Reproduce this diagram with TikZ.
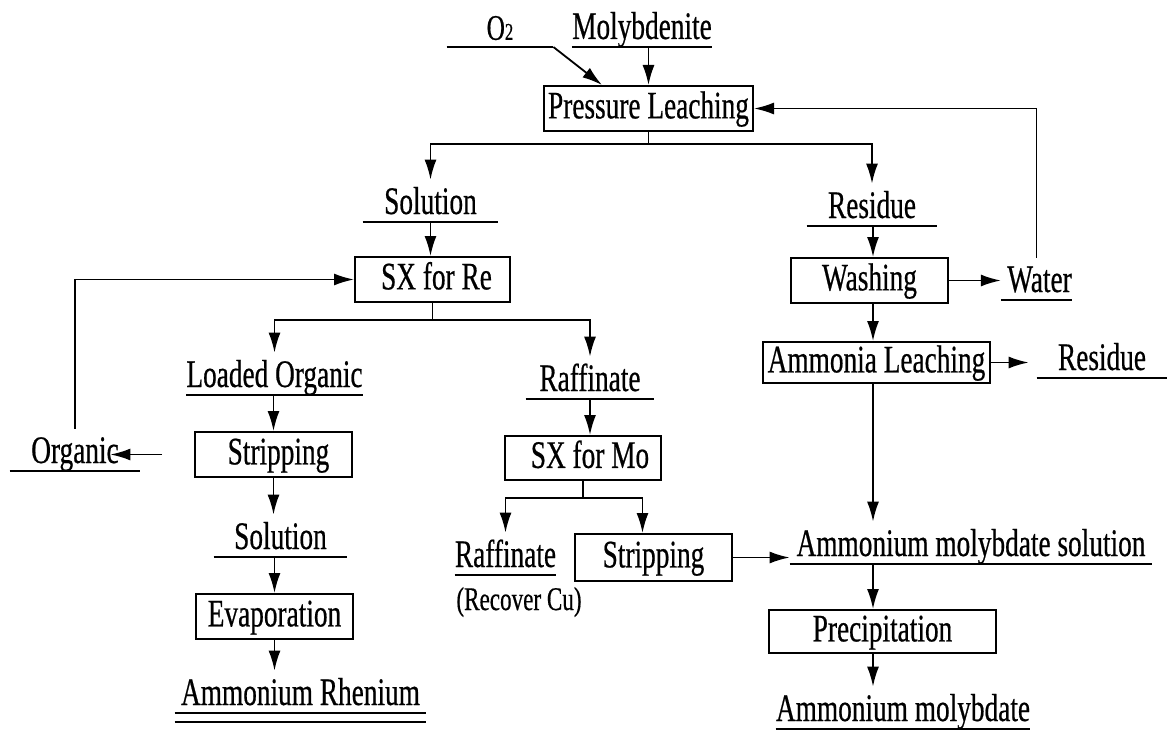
\documentclass[tikz,border=0pt]{standalone}
\usepackage{fontspec}
\setmainfont{Liberation Serif}[FakeStretch=0.7, FakeBold=0.5]
\usepackage{tikz}
\usetikzlibrary{arrows.meta, positioning, calc}

\tikzset{
  stage/.style={draw, line width=1pt, inner sep=0pt, minimum height=22.5pt,
    text height=13.7pt, text depth=3.8pt, font=\fontsize{19.5}{22}\selectfont},
  stream/.style={anchor=south, inner sep=0pt, text height=17pt, text depth=3.8pt,
    font=\fontsize{19.5}{22}\selectfont},
  flow/.style={-{Latex[length=10pt,width=6pt]}, line width=0.9pt},
  uline/.style={line width=0.9pt},
}

\begin{document}
\begin{tikzpicture}[x=0.5pt, y=-0.5pt]
  \useasboundingbox (0,0) rectangle (1167,733);

  % process stages
  \node[stage, minimum width=104.5pt] (pl) at (648.5,108.5) {Pressure Leaching};
  \node[stage, minimum width=77.5pt] (sxre) at (432.5,279.5) {\hspace{4pt}SX for Re};
  \node[stage, minimum width=78.5pt] (strip1) at (273.5,454.5) {\hspace{5pt}Stripping};
  \node[stage, minimum width=78.5pt] (evap) at (274.5,616.5) {Evaporation};
  \node[stage, minimum width=78pt, minimum height=22pt] (sxmo) at (583,458) {\hspace{7pt}SX for Mo};
  \node[stage, minimum width=78.5pt, minimum height=23.5pt] (strip2) at (653.5,557.5) {Stripping\hspace{4pt}};
  \node[stage, minimum width=78.5pt] (wash) at (869.5,280.5) {Washing};
  \node[stage, minimum width=113.5pt, minimum height=20.5pt] (amleach) at (876.5,362.5) {Ammonia Leaching};
  \node[stage, minimum width=113.5pt, minimum height=21.5pt] (precip) at (882.5,631.5) {Precipitation};

  % streams
  \node[stream, minimum width=53pt, text depth=3.4pt, font=\fontsize{18}{20}\selectfont] (o2) at (500,47) {O{\fontsize{12}{12}\selectfont 2}\hspace{4pt}};
  \node[stream, minimum width=65pt] (moly) at (642,47) {Molybdenite};
  \node[stream, minimum width=67.5pt] (sol1) at (430.5,222) {Solution};
  \node[stream, minimum width=65pt] (res1) at (872,226) {Residue};
  \node[stream, minimum width=64.5pt] (loaded) at (274.5,395) {Loaded Organic};
  \node[stream, minimum width=64pt] (raf1) at (590,399) {Raffinate};
  \node[stream, minimum width=65pt] (organic) at (75,471) {Organic\hspace{11pt}};
  \node[stream, minimum width=66.5pt] (sol2) at (280.5,557) {Solution};
  \node[stream, minimum width=125.5pt] (rhen) at (300.5,713) {Ammonium Rhenium};
  \node[stream, minimum width=46.5pt] (raf2) at (505.5,575) {Raffinate};
  \node[stream, minimum width=31.5pt] (water) at (1036.5,300) {\hspace{3pt}Water};
  \node[stream, minimum width=65pt] (res2) at (1102,378) {Residue\hspace{5pt}};
  \node[stream, minimum width=181pt] (amsol) at (971,564) {Ammonium molybdate solution};
  \node[stream, minimum width=125pt] (ammo) at (903,729) {Ammonium molybdate};
  \node[anchor=base, inner sep=0pt, font=\fontsize{16.5}{18}\selectfont] (recover) at (519,610) {(Recover Cu)};

  \foreach \n in {o2,moly,sol1,res1,loaded,raf1,organic,sol2,rhen,raf2,water,res2,amsol,ammo}
    \draw[uline] (\n.south west) -- (\n.south east);
  \draw[uline] ([yshift=-4.5pt]rhen.south west) -- ([yshift=-4.5pt]rhen.south east);

  \coordinate (rcol) at (873,0);

  % feed
  \draw[flow] (o2.south east) -- ($(pl.north west)+(59,0)$);
  \draw[flow] (pl.north |- moly.south) -- (pl.north);
  \draw[line width=0.9pt] (pl.south) -- ++(0,12) coordinate (plsplit);
  \draw[flow] (plsplit) -| (sol1.north);
  \draw[flow] (plsplit) -| (res1.north);

  % rhenium branch
  \draw[flow] (sol1.south) -- (sol1.south |- sxre.north);
  \draw[line width=0.9pt] (sxre.south) -- ++(0,17) coordinate (resplit);
  \draw[flow] (resplit) -| (loaded.north);
  \draw[flow] (resplit) -| (raf1.north);
  \draw[flow] (organic.north) |- (sxre.west);
  \draw[flow] ([xshift=-16pt]strip1.west) -- ([xshift=-15pt]strip1.west -| organic.east);
  \draw[flow] (strip1.north |- loaded.south) -- (strip1.north);
  \draw[flow] (strip1.south) -- (strip1.south |- sol2.north);
  \draw[flow] (evap.north |- sol2.south) -- (evap.north);
  \draw[flow] (evap.south) -- (evap.south |- rhen.north);

  % molybdenum branch
  \draw[flow] (raf1.south) -- (raf1.south |- sxmo.north);
  \draw[line width=0.9pt] (sxmo.south) -- ++(0,17) coordinate (mosplit);
  \draw[flow] (mosplit) -| (raf2.north);
  \draw[flow] (mosplit) -| ([xshift=-5.5pt]strip2.north);
  \draw[flow] (strip2.east) -- (strip2.east -| amsol.west);

  % residue branch
  \draw[flow] (res1.south -| rcol) -- (wash.north -| rcol);
  \draw[flow] (wash.east) -- (wash.east -| water.west);
  \draw[flow] (water.north) |- (pl.east);
  \draw[flow] (wash.south -| rcol) -- (amleach.north -| rcol);
  \draw[flow, shorten >=4pt] (amleach.east) -- (amleach.east -| res2.west);
  \draw[flow] (amleach.south -| rcol) -- (amsol.north -| rcol);
  \draw[flow] (amsol.south -| rcol) -- (precip.north -| rcol);
  \draw[flow] (precip.south -| rcol) -- (ammo.north -| rcol);
\end{tikzpicture}
\end{document}
